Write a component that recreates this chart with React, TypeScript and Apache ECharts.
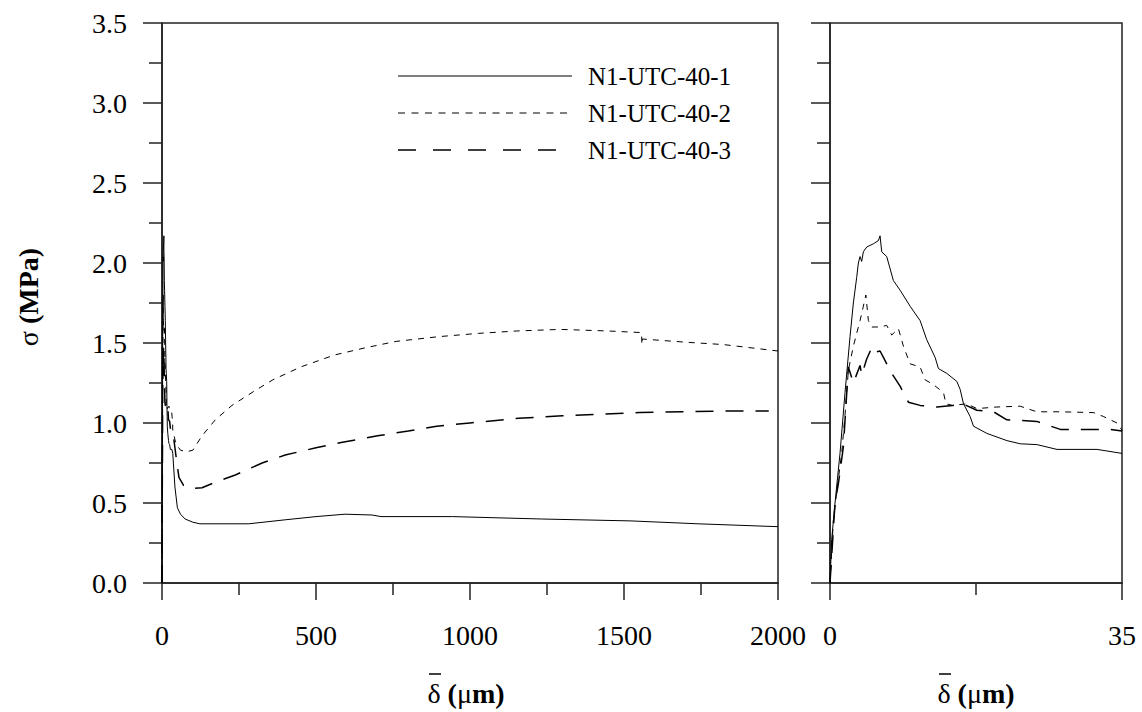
import React, { useEffect, useRef } from "react";
import * as echarts from "echarts";

const SERIES_NAMES = ["N1-UTC-40-1", "N1-UTC-40-2", "N1-UTC-40-3"];

// Initial part (0–35 μm), shown in the right panel and also at the start of the left panel
const earlyDelta1 = [0, 0.2, 0.6, 1.2, 1.8, 2.4, 2.8, 3.2, 3.4, 3.6, 3.8, 4.0, 4.4, 5.2, 5.8, 6.0, 6.2, 6.8, 7.6, 8.4, 9.6, 10.8, 11.6, 12.6, 13.0, 14.0, 15.2, 15.6, 16.0, 16.8, 17.2, 18.8, 21.2, 22.8, 24.8, 27.2, 32.0, 35.0];
const earlySigma1 = [0, 0.27, 0.5, 0.81, 1.19, 1.54, 1.75, 1.91, 2.0, 2.04, 2.01, 2.07, 2.1, 2.12, 2.14, 2.17, 2.07, 2.04, 1.89, 1.83, 1.73, 1.64, 1.52, 1.41, 1.34, 1.31, 1.26, 1.21, 1.12, 1.04, 0.98, 0.935, 0.89, 0.87, 0.865, 0.835, 0.835, 0.81];

const earlyDelta2 = [0, 0.4, 1.0, 1.4, 1.8, 2.2, 2.8, 3.6, 4.0, 4.3, 4.6, 5.0, 6.0, 6.8, 7.4, 8.2, 8.8, 9.6, 10.8, 11.4, 12.4, 13.6, 13.9, 14.7, 16.4, 17.6, 20.0, 22.8, 24.8, 27.6, 31.6, 32.8, 34.4, 35.0];
const earlySigma2 = [0, 0.39, 0.65, 0.81, 1.05, 1.33, 1.48, 1.64, 1.73, 1.8, 1.64, 1.6, 1.6, 1.61, 1.55, 1.59, 1.48, 1.37, 1.35, 1.27, 1.24, 1.19, 1.12, 1.11, 1.12, 1.09, 1.1, 1.105, 1.07, 1.07, 1.065, 1.04, 1.0, 0.955];

const earlyDelta3 = [0, 0.6, 1.0, 1.6, 2.2, 2.8, 3.6, 3.8, 4.4, 5.0, 5.2, 6.0, 6.4, 7.4, 8.4, 9.4, 10.8, 12.8, 14.7, 15.9, 17.6, 19.6, 21.2, 24.8, 27.6, 31.6, 33.6, 35.0];
const earlySigma3 = [0, 0.5, 0.62, 0.85, 1.35, 1.25, 1.36, 1.3, 1.4, 1.47, 1.44, 1.45, 1.41, 1.31, 1.23, 1.13, 1.11, 1.1, 1.11, 1.12, 1.08, 1.07, 1.02, 1.01, 0.96, 0.96, 0.96, 0.95];

// Later part (> 35 μm), left panel only
const lateDelta1 = [42, 50, 60, 75, 100, 123, 282, 400, 500, 594, 682, 711, 943, 1233, 1523, 1740, 2000];
const lateSigma1 = [0.6, 0.47, 0.43, 0.4, 0.38, 0.37, 0.37, 0.395, 0.415, 0.43, 0.425, 0.415, 0.415, 0.4, 0.388, 0.37, 0.352];

const lateDelta2 = [45, 60, 80, 100, 130, 173, 227, 300, 360, 450, 560, 660, 760, 900, 1027, 1150, 1293, 1450, 1557, 1558, 1560, 1700, 1824, 2000];
const lateSigma2 = [0.87, 0.83, 0.82, 0.83, 0.92, 1.02, 1.11, 1.2, 1.27, 1.35, 1.425, 1.47, 1.51, 1.54, 1.56, 1.575, 1.585, 1.575, 1.565, 1.49, 1.525, 1.505, 1.49, 1.45];

const lateDelta3 = [45, 55, 70, 90, 130, 173, 238, 325, 400, 500, 586, 700, 800, 892, 1000, 1158, 1300, 1424, 1550, 1691, 1850, 1970];
const lateSigma3 = [0.8, 0.66, 0.61, 0.59, 0.595, 0.63, 0.675, 0.75, 0.8, 0.845, 0.88, 0.92, 0.95, 0.98, 1.0, 1.03, 1.045, 1.055, 1.065, 1.07, 1.075, 1.075];

const LEFT_X_MAX = 2000;
const RIGHT_X_MAX = 35;
const Y_MAX = 3.5;

const zip = (xs: number[], ys: number[]) => xs.map((x, i) => [x, ys[i]]);

const FONT = "'Liberation Serif', 'Times New Roman', serif";
const AXIS_COLOR = "#222";

const LINE_STYLES = [
  { color: "#000", width: 1, type: "solid" as any },
  { color: "#000", width: 1, type: [6, 6] as any },
  { color: "#000", width: 1.5, type: [18, 12] as any },
];

export default function App() {
  const ref = useRef<HTMLDivElement>(null);

  useEffect(() => {
    if (!ref.current) return;
    const chart = echarts.init(ref.current, undefined, { renderer: "svg" });

    const early = [zip(earlyDelta1, earlySigma1), zip(earlyDelta2, earlySigma2), zip(earlyDelta3, earlySigma3)];
    const late = [zip(lateDelta1, lateSigma1), zip(lateDelta2, lateSigma2), zip(lateDelta3, lateSigma3)];

    const baseX = (gridIndex: number, max: number, interval: number, formatter: any) => ({
      type: "value",
      gridIndex,
      min: 0,
      max,
      interval,
      axisLine: { show: true, onZero: false, lineStyle: { color: AXIS_COLOR, width: 1.5 } },
      axisTick: { show: true, inside: false, length: 17, lineStyle: { color: AXIS_COLOR, width: 1.5 } },
      minorTick: { show: true, splitNumber: 2, length: 12, lineStyle: { color: AXIS_COLOR, width: 1.5 } },
      splitLine: { show: false },
      minorSplitLine: { show: false },
      axisLabel: {
        show: true,
        margin: 38,
        fontSize: 28,
        fontFamily: FONT,
        color: "#000",
        formatter,
      },
    });

    const baseY = (gridIndex: number, showLabel: boolean) => ({
      type: "value",
      gridIndex,
      min: 0,
      max: Y_MAX,
      interval: 0.5,
      axisLine: { show: true, onZero: false, lineStyle: { color: AXIS_COLOR, width: 1.5 } },
      axisTick: { show: true, inside: false, length: 19, lineStyle: { color: AXIS_COLOR, width: 1.5 } },
      minorTick: { show: true, splitNumber: 2, length: 13, lineStyle: { color: AXIS_COLOR, width: 1.5 } },
      splitLine: { show: false },
      minorSplitLine: { show: false },
      axisLabel: {
        show: showLabel,
        margin: 35,
        fontSize: 28,
        fontFamily: FONT,
        color: "#000",
        formatter: (v: number) => v.toFixed(1),
      },
    });

    const series: any[] = [];
    for (let i = 0; i < 3; i++) {
      series.push({
        name: SERIES_NAMES[i],
        type: "line",
        xAxisIndex: 0,
        yAxisIndex: 0,
        data: early[i].concat(late[i]),
        symbol: "none",
        lineStyle: LINE_STYLES[i],
        z: 3,
      });
      series.push({
        name: SERIES_NAMES[i] + " (0-35)",
        type: "line",
        xAxisIndex: 1,
        yAxisIndex: 1,
        data: early[i],
        symbol: "none",
        lineStyle: LINE_STYLES[i],
        z: 3,
      });
    }

    const legendX1 = 398;
    const legendX2 = 572;
    const legendYs = [76, 113, 150];
    const legendDash: any[] = [null, [7, 6.5], [18, 17]];
    const legendWidths = [1, 1, 1.5];

    const graphics: any[] = [];
    legendYs.forEach((y, i) => {
      graphics.push({
        type: "line",
        shape: { x1: legendX1, y1: y, x2: legendX2, y2: y },
        style: { stroke: "#000", lineWidth: legendWidths[i], lineDash: legendDash[i] || undefined },
        z: 10,
      });
      graphics.push({
        type: "text",
        x: 588,
        y: y,
        style: {
          text: SERIES_NAMES[i],
          fill: "#000",
          font: `25px ${FONT}`,
          textAlign: "left",
          textVerticalAlign: "middle",
          verticalAlign: "middle",
        },
        z: 10,
      });
    });

    const richStyles = {
      a: { fontFamily: FONT, fontSize: 28, fontWeight: "normal", fill: "#000", color: "#000" },
      b: { fontFamily: FONT, fontSize: 28, fontWeight: "bold", fill: "#000", color: "#000" },
    };

    const xTitle = (cx: number) => {
      graphics.push({
        type: "text",
        x: cx,
        y: 693,
        style: {
          text: "{a|δ }{b|(}{a|μ}{b|m)}",
          textAlign: "center",
          verticalAlign: "middle",
          textVerticalAlign: "middle",
          fill: "#000",
          rich: richStyles,
        },
        z: 10,
      });
      graphics.push({
        type: "line",
        shape: { x1: cx - 37, y1: 674, x2: cx - 25, y2: 674 },
        style: { stroke: "#000", lineWidth: 1.5 },
        z: 10,
      });
    };
    xTitle(466);
    xTitle(976);

    graphics.push({
      type: "text",
      x: 28,
      y: 297,
      rotation: Math.PI / 2,
      style: {
        text: "{a|σ }{b|(MPa)}",
        textAlign: "center",
        verticalAlign: "middle",
        textVerticalAlign: "middle",
        fill: "#000",
        rich: richStyles,
      },
      z: 10,
    });

    chart.setOption({
      animation: false,
      backgroundColor: "#fff",
      grid: [
        { left: 162, top: 23, width: 616, height: 560, show: true, borderColor: AXIS_COLOR, borderWidth: 1.5, backgroundColor: "transparent" },
        { left: 830, top: 23, width: 292, height: 560, show: true, borderColor: AXIS_COLOR, borderWidth: 1.5, backgroundColor: "transparent" },
      ],
      xAxis: [
        baseX(0, LEFT_X_MAX, 500, (v: number) => String(v)),
        baseX(1, RIGHT_X_MAX, 35, (v: number) => (v === 0 || v === 35 ? String(v) : "")),
      ],
      yAxis: [baseY(0, true), baseY(1, false)],
      series,
      graphic: graphics,
    });

    return () => chart.dispose();
  }, []);

  return (
    <div
      ref={ref}
      style={{ position: "fixed", left: 0, top: 0, width: 1142, height: 712, background: "#fff" }}
    />
  );
}
